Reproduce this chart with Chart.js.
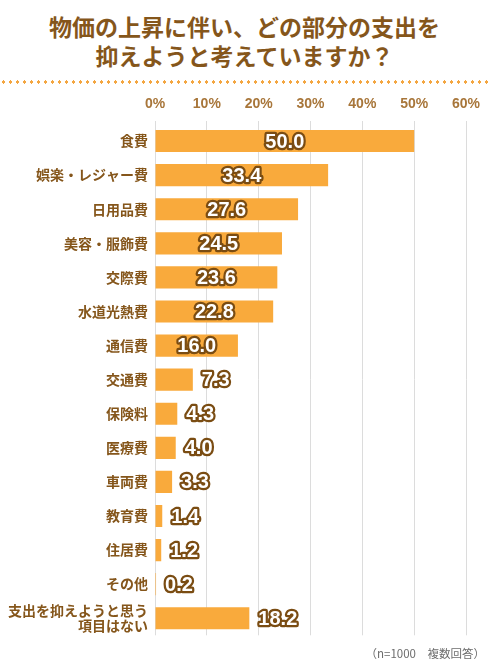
<!DOCTYPE html>
<html lang="ja">
<head>
<meta charset="utf-8">
<script src="https://cdn.jsdelivr.net/npm/chart.js@4"></script>
<style>
  body {
    margin: 0;
    width: 489px;
    height: 660px;
    background: #fff;
    position: relative;
    overflow: hidden;
    font-family: "Noto Sans CJK JP", "Noto Sans", sans-serif;
  }
  #title {
    position: absolute;
    top: 12px;
    left: 0;
    width: 489px;
    text-align: center;
    color: #85561b;
    font-size: 23px;
    font-weight: bold;
    line-height: 29px;
  }
  #dots {
    position: absolute;
    top: 80px;
    left: 0;
    width: 489px;
    height: 4px;
    background-image: radial-gradient(circle, #f4a640 1.5px, transparent 1.8px);
    background-size: 7px 4px;
  }
  #note {
    position: absolute;
    top: 645px;
    right: 4px;
    color: #6d6d6d;
    font-size: 11.5px;
  }
  #chart {
    position: absolute;
    top: 90px;
    left: 0;
  }
</style>
</head>
<body>
<div id="title">物価の上昇に伴い、どの部分の支出を<br>抑えようと考えていますか？</div>
<div id="dots"></div>
<canvas id="chart" width="489" height="560"></canvas>
<div id="note">（n=1000　複数回答）</div>
<script>
const categories = [
  "食費",
  "娯楽・レジャー費",
  "日用品費",
  "美容・服飾費",
  "交際費",
  "水道光熱費",
  "通信費",
  "交通費",
  "保険料",
  "医療費",
  "車両費",
  "教育費",
  "住居費",
  "その他",
  ["支出を抑えようと思う", "項目はない"],
];

const percentValues = [50.0, 33.4, 27.6, 24.5, 23.6, 22.8, 16.0, 7.3, 4.3, 4.0, 3.3, 1.4, 1.2, 0.2, 18.2];

const axisMax = 60;
const axisStep = 10;

const brown = "#85561b";

// white numbers with a brown outline, inside big bars, beside small ones
const valueLabels = {
  id: "valueLabels",
  afterDatasetsDraw(chart) {
    const ctx = chart.ctx;
    const meta = chart.getDatasetMeta(0);
    ctx.save();
    ctx.font = "bold 20px 'Liberation Sans', Arial, sans-serif";
    ctx.textBaseline = "middle";
    ctx.lineJoin = "round";
    ctx.lineWidth = 4.5;
    ctx.strokeStyle = "#7a4c12";
    ctx.fillStyle = "#fff";
    meta.data.forEach((bar, i) => {
      const v = percentValues[i];
      const text = v.toFixed(1);
      let x;
      // the last row ("none") has its label outside in the original
      if (v >= 10 && i !== percentValues.length - 1) {
        ctx.textAlign = "center";
        x = (bar.base + bar.x) / 2;
      } else {
        ctx.textAlign = "left";
        x = bar.x + 9;
      }
      ctx.strokeText(text, x, bar.y + 1);
      ctx.fillText(text, x, bar.y + 1);
    });
    ctx.restore();
  },
};

new Chart(document.getElementById("chart"), {
  type: "bar",
  data: {
    labels: categories,
    datasets: [
      {
        data: percentValues,
        backgroundColor: "#f9aa3c",
        borderWidth: 0,
        barPercentage: 0.65,
        categoryPercentage: 1,
      },
    ],
  },
  options: {
    indexAxis: "y",
    responsive: false,
    animation: false,
    layout: {
      padding: { top: 0, right: 23, bottom: 14, left: 0 },
    },
    scales: {
      x: {
        position: "top",
        min: 0,
        max: axisMax,
        ticks: {
          stepSize: axisStep,
          padding: 8,
          color: "#a8763a",
          font: { family: "'Liberation Sans', Arial, sans-serif", size: 14, weight: "bold" },
          callback: (v) => v + "%",
        },
        grid: {
          color: "#dcdcdc",
          tickLength: 3,
        },
        border: { display: false },
        afterFit: (s) => {
          s.height = 34;
        },
      },
      y: {
        ticks: {
          autoSkip: false,
          padding: 7,
          color: brown,
          font: { family: "'Noto Sans CJK JP', sans-serif", size: 14, weight: "bold", lineHeight: 1.1 },
        },
        grid: { display: false, drawTicks: false, tickLength: 0 },
        border: { display: false },
        afterFit: (s) => {
          s.width = 155;
        },
      },
    },
    plugins: {
      legend: { display: false },
      tooltip: { enabled: false },
    },
  },
  plugins: [valueLabels],
});
</script>
</body>
</html>
